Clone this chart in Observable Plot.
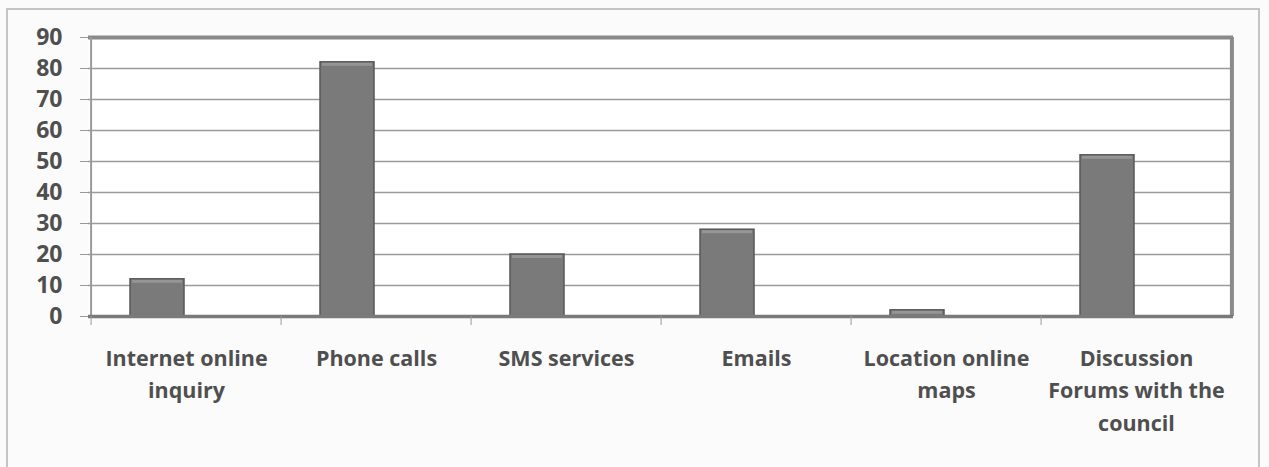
<!DOCTYPE html>
<html>
<head>
<meta charset="utf-8">
<script src="https://cdn.jsdelivr.net/npm/d3@7"></script>
<script src="https://cdn.jsdelivr.net/npm/@observablehq/plot@0.6"></script>
<style>
  html, body { margin: 0; padding: 0; background: #fbfbfb; }
  #wrap { position: relative; width: 1269px; height: 467px; }
  #border { position: absolute; left: 6px; top: 8px; width: 1254px; height: 470px; border: 2px solid #c4c4c4; box-sizing: border-box; pointer-events: none; }
  svg { display: block; }
</style>
</head>
<body>
<div id="wrap"><div id="border"></div></div>
<script>
const categories = [
  "Internet online\ninquiry",
  "Phone calls",
  "SMS services",
  "Emails",
  "Location online\nmaps",
  "Discussion\nForums with the\ncouncil"
];
const values = [12, 82, 20, 28, 2, 52];
const yTicks = [0, 10, 20, 30, 40, 50, 60, 70, 80, 90];

const data = categories.map((c, i) => ({category: c, value: values[i]}));

const W = 1269, H = 467;
const mL = 88, mR = 36, mT = 37, mB = 151;
const band = (W - mL - mR) / categories.length;

const chart = Plot.plot({
  width: W,
  height: H,
  marginLeft: mL,
  marginRight: mR,
  marginTop: mT,
  marginBottom: mB,
  style: {background: "transparent", fontFamily: "'Open Sans', Lato, sans-serif"},
  x: {domain: categories, padding: 0, label: null},
  y: {domain: [0, 90], ticks: yTicks, label: null},
  marks: [
    Plot.frame({fill: "white", stroke: null}),
    Plot.gridY(yTicks.filter(t => t > 0 && t < 90), {stroke: "#9a9a9a", strokeOpacity: 1, strokeWidth: 1.5}),
    Plot.barY(data, {
      x: "category", y: "value",
      insetLeft: 39, insetRight: 97,
      fill: "#7a7a7a", stroke: "#585858", strokeWidth: 1.5
    }),
    Plot.barY(data, {
      x: "category", y1: "value", y2: "value",
      insetLeft: 41, insetRight: 99, insetBottom: -4, insetTop: 1,
      fill: "#959595"
    }),
    Plot.ruleY([90], {stroke: "#8a8a8a", strokeWidth: 4}),
    Plot.ruleX([categories[categories.length - 1]], {stroke: "#8a8a8a", strokeWidth: 4, dx: band / 2, y1: 0, y2: 90}),
    Plot.ruleX([categories[0]], {stroke: "#9a9a9a", strokeWidth: 2, dx: -band / 2, y1: 0, y2: 90}),
    Plot.ruleY([0], {stroke: "#7a7a7a", strokeWidth: 3.5}),
    Plot.axisY({
      ticks: yTicks, tickSize: 8, tickPadding: 18, stroke: "#999",
      fontSize: 23, fontWeight: "bold", fill: "#4f4f4f", label: null
    }),
    Plot.axisX({
      tickSize: 9, tickFormat: () => "", stroke: "#999", dx: -band / 2, label: null
    }),
    Plot.axisX({
      tickSize: 0, tickPadding: 26, fontSize: 21.5, fontWeight: "bold", fill: "#4f4f4f",
      lineHeight: 1.52, label: null, style: {letterSpacing: "-0.3px"}
    })
  ]
});
document.getElementById("wrap").prepend(chart);
</script>
</body>
</html>
